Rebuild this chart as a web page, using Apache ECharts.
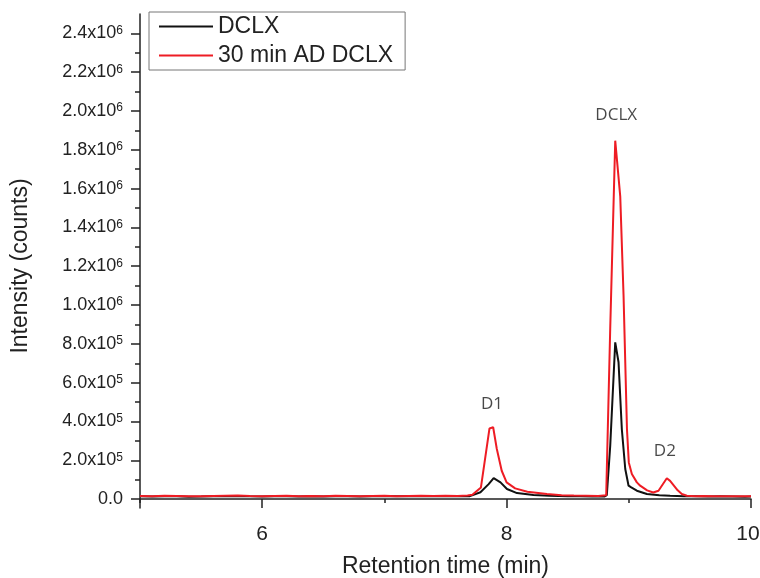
<!DOCTYPE html>
<html>
<head>
<meta charset="utf-8">
<script src="https://cdn.jsdelivr.net/npm/echarts@6/dist/echarts.min.js"></script>
<style>html,body{margin:0;padding:0;background:#fff}#c{width:760px;height:578px}</style>
</head>
<body>
<div id="c"></div>
<script>
// ---- data ----
const dclxTime = [5.0,5.1,5.2,5.3,5.4,5.5,5.6,5.7,5.8,5.9,6.0,6.1,6.2,6.3,6.4,6.5,6.6,6.7,6.8,6.9,7.0,7.1,7.2,7.3,7.4,7.5,7.6,7.70,7.786,7.853,7.894,7.95,8.003,8.085,8.22,8.35,8.5,8.6,8.7,8.8,8.82,8.848,8.889,8.916,8.943,8.971,8.998,9.02,9.066,9.148,9.25,9.338,9.45,9.55,9.65,9.75,9.85,9.95,10.0];
const dclxIntensity = [14000,13000,15000,14000,12000,13000,15000,14000,16000,14000,13000,14000,15000,13000,14000,13000,15000,14000,13000,15000,16000,14000,15000,16000,15000,16000,15000,15000,35000,77000,108000,86000,52000,31000,21000,17000,15000,14000,13000,13000,20000,275000,808000,705000,360000,155000,69000,60000,43000,26000,20000,17000,15000,14000,13000,14000,13000,12000,13000];
const adTime = [5.0,5.1,5.2,5.3,5.4,5.5,5.6,5.7,5.8,5.9,6.0,6.1,6.2,6.3,6.4,6.5,6.6,6.7,6.8,6.9,7.0,7.1,7.2,7.3,7.4,7.5,7.6,7.68,7.72,7.79,7.86,7.89,7.92,7.96,8.0,8.07,8.17,8.33,8.45,8.55,8.65,8.75,8.815,8.848,8.889,8.93,8.957,8.985,9.0,9.025,9.066,9.093,9.15,9.2,9.243,9.311,9.338,9.4,9.434,9.475,9.55,9.6,9.7,9.8,9.9,10.0];
const adIntensity = [16000,15000,17000,16000,14000,15000,16000,17000,18000,16000,15000,16000,17000,15000,16000,15000,17000,16000,15000,16000,17000,15000,16000,17000,16000,17000,16000,18000,22000,60000,364000,370000,258000,146000,86000,55000,38000,26000,20000,18000,17000,16000,20000,880000,1847000,1560000,1050000,360000,189000,129000,86000,69000,45000,34000,43000,107000,94000,45000,26000,17000,15000,16000,14000,15000,14000,14000];
const seriesNames = ['DCLX','30 min AD DCLX'];
const peakLabels = ['D1','DCLX','D2'];
const peakLabelTime = [7.881, 8.897, 9.295];
const peakLabelIntensity = [491000, 1978000, 249000];
const xTickValues = [6, 8, 10];
const xTickLabels = ['6', '8', '10'];
const xMinorTicks = [5, 7, 9];
const yTickValues = [0,200000,400000,600000,800000,1000000,1200000,1400000,1600000,1800000,2000000,2200000,2400000];
const yTickLabels = ['0.0','2.0x10{s|5}','4.0x10{s|5}','6.0x10{s|5}','8.0x10{s|5}','1.0x10{s|6}','1.2x10{s|6}','1.4x10{s|6}','1.6x10{s|6}','1.8x10{s|6}','2.0x10{s|6}','2.2x10{s|6}','2.4x10{s|6}'];
const yMinorTicks = [100000,300000,500000,700000,900000,1100000,1300000,1500000,1700000,1900000,2100000,2300000];

// ---- chart ----
const zip = (a, b) => a.map((v, i) => [v, b[i]]);
const yLabelMap = {}; yTickValues.forEach((v, i) => yLabelMap[v] = yTickLabels[i]);
const xLabelMap = {}; xTickValues.forEach((v, i) => xLabelMap[v] = xTickLabels[i]);
const FONT = '"Liberation Sans", Arial, sans-serif';
const axisCol = '#222';
const X_MIN = 5, X_MAX = 10, Y_MIN = -46000, Y_MAX = 2500000;

const chart = echarts.init(document.getElementById('c'), null, {renderer: 'canvas'});
chart.setOption({
  animation: false,
  backgroundColor: '#fff',
  grid: {left: 140, right: 9, top: 14, bottom: 70, containLabel: false, outerBoundsMode: 'none'},
  legend: {
    left: 149, top: 12, orient: 'vertical',
    data: seriesNames,
    icon: 'rect', itemWidth: 54, itemHeight: 2, itemGap: 6,
    padding: [3, 12, 3, 10],
    borderColor: '#777', borderWidth: 1,
    textStyle: {fontFamily: FONT, fontSize: 23, color: '#222'}
  },
  xAxis: [{
    type: 'value', min: X_MIN, max: X_MAX, position: 'bottom',
    name: 'Retention time (min)', nameLocation: 'middle', nameGap: 47,
    nameTextStyle: {fontFamily: FONT, fontSize: 23, color: '#222'},
    axisLine: {show: true, lineStyle: {color: axisCol, width: 1.5}},
    axisTick: {show: true, customValues: xTickValues, length: 9, lineStyle: {color: axisCol, width: 1.5}},
    axisLabel: {
      customValues: xTickValues,
      formatter: v => v === X_MAX ? '{r|' + xLabelMap[v] + '}' : xLabelMap[v],
      margin: 16, fontFamily: FONT, fontSize: 21, color: '#222',
      rich: {r: {fontFamily: FONT, fontSize: 21, color: '#222', padding: [0, 6, 0, 0]}}
    },
    splitLine: {show: false}
  }, {
    type: 'value', min: X_MIN, max: X_MAX, position: 'bottom',
    axisLine: {show: false},
    axisTick: {show: true, customValues: xMinorTicks, length: 4, lineStyle: {color: axisCol, width: 1.5}},
    axisLabel: {show: false}, splitLine: {show: false}
  }],
  yAxis: [{
    type: 'value', min: Y_MIN, max: Y_MAX, position: 'left',
    name: 'Intensity (counts)', nameLocation: 'middle', nameGap: 108, nameRotate: 90,
    nameTextStyle: {fontFamily: FONT, fontSize: 23, color: '#222', padding: [0, 10, 0, 0]},
    axisLine: {show: true, lineStyle: {color: axisCol, width: 1.5}},
    axisTick: {show: true, customValues: yTickValues, length: 9, lineStyle: {color: axisCol, width: 1.5}},
    axisLabel: {
      customValues: yTickValues, formatter: v => yLabelMap[v], margin: 17,
      fontFamily: FONT, fontSize: 18, color: '#222',
      rich: {s: {fontFamily: FONT, fontSize: 12, color: '#222', verticalAlign: 'top', lineHeight: 11}}
    },
    splitLine: {show: false}
  }, {
    type: 'value', min: Y_MIN, max: Y_MAX, position: 'left',
    axisLine: {show: false},
    axisTick: {show: true, customValues: yMinorTicks, length: 5, lineStyle: {color: axisCol, width: 1.5}},
    axisLabel: {show: false}, splitLine: {show: false}
  }],
  series: [{
    name: seriesNames[0], type: 'line', data: zip(dclxTime, dclxIntensity),
    showSymbol: false, symbol: 'none', color: '#111',
    lineStyle: {color: '#111', width: 2}, z: 3
  }, {
    name: seriesNames[1], type: 'line', data: zip(adTime, adIntensity),
    showSymbol: false, symbol: 'none', color: '#ee1c24',
    lineStyle: {color: '#ee1c24', width: 2}, z: 4
  }, {
    name: 'labels', type: 'scatter', symbolSize: 0, itemStyle: {color: 'rgba(0,0,0,0)'},
    data: peakLabels.map((n, i) => ({name: n, value: [peakLabelTime[i], peakLabelIntensity[i]]})),
    label: {show: true, position: 'inside', formatter: '{b}', fontFamily: '"Open Sans", sans-serif', fontSize: 17, color: '#1a1a1a'},
    silent: true, z: 5
  }]
});
</script>
</body>
</html>
